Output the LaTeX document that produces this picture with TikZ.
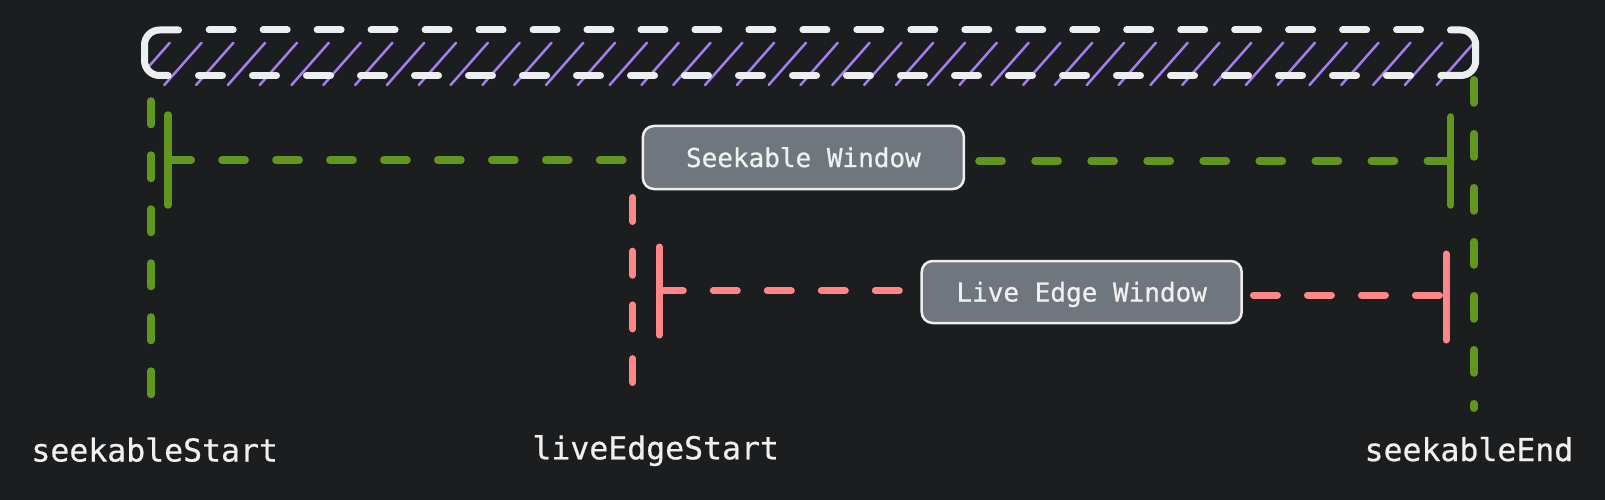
\documentclass[tikz,border=0pt]{standalone}
\usepackage{fontspec}
\newfontfamily\monofam[RawFeature={embolden=0.6}]{DejaVu Sans Mono}
\definecolor{bg}{HTML}{1C1D1F}
\definecolor{wline}{HTML}{ECEEEF}
\definecolor{boxfill}{HTML}{70767D}
\definecolor{txt}{HTML}{F0F0F0}
\definecolor{hatchc}{HTML}{A47DF2}
\definecolor{grn}{HTML}{62971F}
\definecolor{pnk}{HTML}{FF8787}
\tikzset{
  winbox/.style={draw=wline, line width=2.5pt, fill=boxfill, rounded corners=11pt,
    text=txt, font=\monofam\fontsize{26}{30}\selectfont, inner sep=0pt,
    text height=19pt, text depth=0pt},
  lbl/.style={text=txt, font=\monofam\fontsize{31.5}{36}\selectfont, inner sep=0pt, anchor=base},
  gdash/.style={draw=grn, line width=7.5pt, line cap=round, dash pattern=on 23.25pt off 30.75pt},
  gsolid/.style={draw=grn, line width=7.5pt, line cap=round},
  pdash/.style={draw=pnk, line width=7pt, line cap=round, dash pattern=on 24pt off 30pt},
  psolid/.style={draw=pnk, line width=7pt, line cap=round},
  hatchline/.style={draw=hatchc, line width=2.5pt, line cap=round},
  rangeline/.style={draw=wline, line width=7pt, line cap=round},
}
\begin{document}
\begin{tikzpicture}[x=1pt,y=-1pt]
\path[fill=bg] (0,0) rectangle (1605,500);
\useasboundingbox (0,0) rectangle (1605,500);
% hatching
\begin{scope}
  \clip (148,0) rectangle (1472,120);
  \foreach \i in {0,...,41} {
    \draw[hatchline] (132.5+31.81*\i,85) -- ++(37.3,-42.3);
  }
\end{scope}
% dashed range rectangle
\draw[rangeline, dash pattern=on 24pt off 29.97pt] (209.2,30) -- (1421.5,30);
\draw[rangeline, dash pattern=on 24pt off 30pt] (198.5,75.5) -- (1410.6,75.5);
\draw[rangeline, rounded corners=15pt] (178.5,30) -- (144.5,30) -- (144.5,75.5) -- (168.2,75.5);
\draw[rangeline, rounded corners=15pt] (1450.5,30) -- (1475.7,30) -- (1475.7,75.5) -- (1440.8,75.5);

% boxes
\node[winbox, minimum width=321pt, minimum height=63pt] (sw) at (803.4,157.5) {Seekable Window};
\node[winbox, minimum width=320pt, minimum height=62pt] (lw) at (1081.7,292) {Live Edge Window};

% labels
\node[lbl] (ss) at (154.7,461.5) {seekableStart};
\node[lbl] (ls) at (655.7,459.3) {liveEdgeStart};
\node[lbl] (se) at (1468.9,461) {seekableEnd};

% coordinates
\coordinate (gLtop) at (151,101);
\coordinate (gLbot) at (151,394.5);
\coordinate (gTickLt) at (168,115);
\coordinate (gTickLb) at (168,205);
\coordinate (gHL) at (168,160);
\coordinate (gHR) at (1450.7,161);
\coordinate (gTickRt) at (1450.7,117);
\coordinate (gTickRb) at (1450.7,205);
\coordinate (gRtop) at (1474,79.75);
\coordinate (gRbot) at (1474,408.25);

\coordinate (pLtop) at (632.7,197.5);
\coordinate (pLbot) at (632.7,382.5);
\coordinate (pTickLt) at (659.3,247);
\coordinate (pTickLb) at (659.3,335);
\coordinate (pHL) at (659.3,290.7);
\coordinate (pHR) at (1446,295);
\coordinate (pTickRt) at (1446,254);
\coordinate (pTickRb) at (1446,340);

% green: seekable window
\draw[gdash, dash pattern=on 23.5pt off 30.5pt] (gLtop) -- (gLbot);
\draw[gdash] (gRtop) -- (gRbot);
\draw[gsolid] (gTickLt) -- (gTickLb);
\draw[gsolid] (gTickRt) -- (gTickRb);
\draw[gdash, dash pattern=on 23.25pt off 30.7pt] (gHL) -- ([xshift=-17.45pt]sw.west |- gHL);
\draw[gdash, dash pattern=on 23.25pt off 32.8pt] ([xshift=13.75pt]sw.east |- gHR) -- (gHR);

% pink: live edge window
\draw[pdash, dash pattern=on 24pt off 29.7pt] (pLtop) -- (pLbot);
\draw[psolid] (pTickLt) -- (pTickLb);
\draw[psolid] (pTickRt) -- (pTickRb);
\draw[pdash] (pHL) -- ([xshift=-20.6pt]lw.west |- pHL);
\draw[pdash] ([xshift=10.5pt]lw.east |- pHR) -- (pHR);
\end{tikzpicture}
\end{document}
